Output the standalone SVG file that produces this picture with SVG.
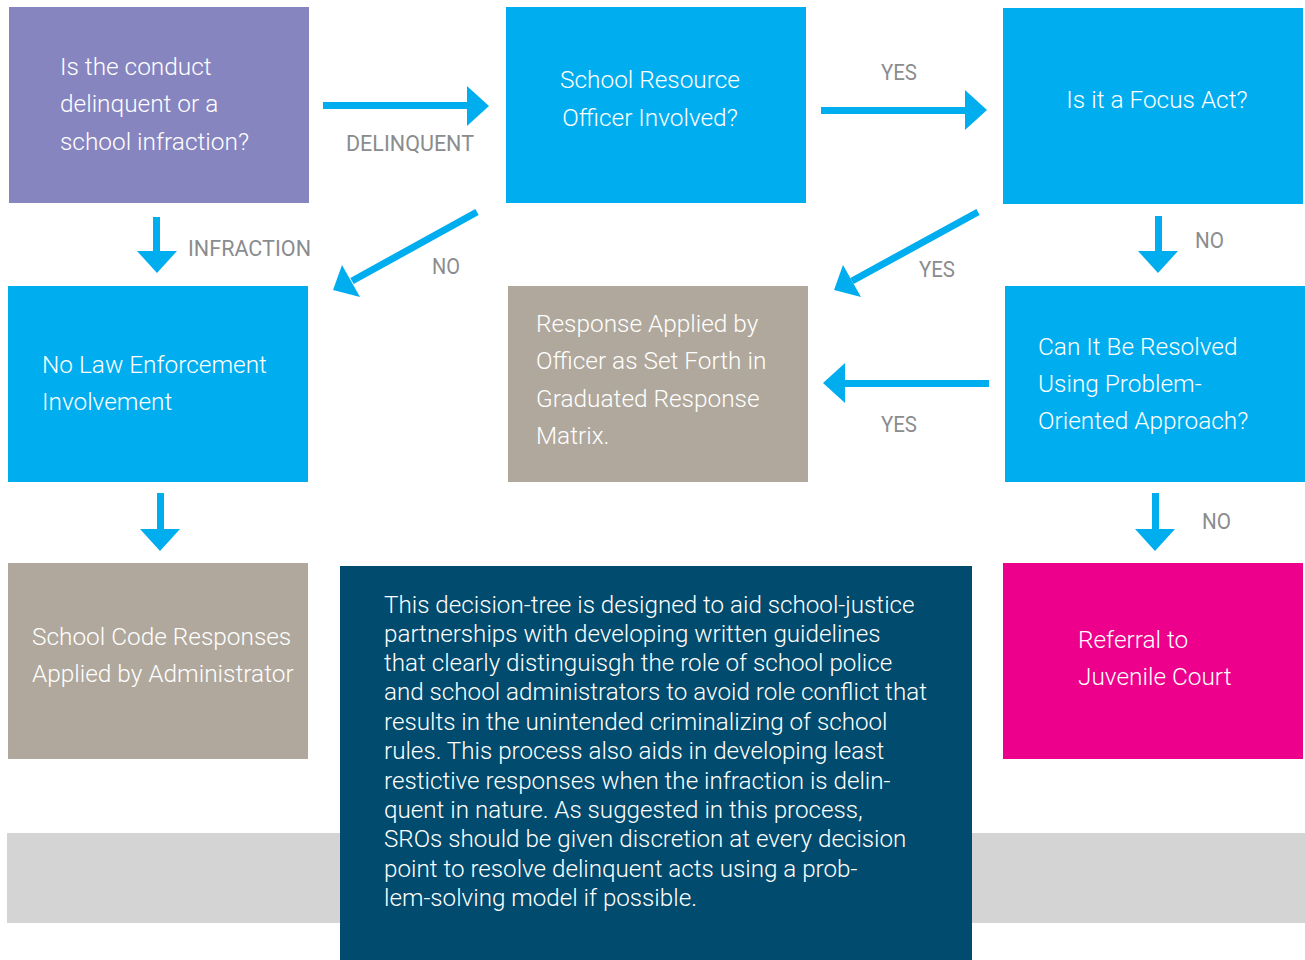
<svg xmlns="http://www.w3.org/2000/svg" width="1305" height="960" viewBox="0 0 1305 960">
<style>
.t{font-family:Roboto,"Liberation Sans",sans-serif;font-weight:300;font-size:24.4px;fill:#fff}
.n{font-family:Roboto,"Liberation Sans",sans-serif;font-weight:300;font-size:24.2px;fill:#fff}
.l{font-family:Roboto,"Liberation Sans",sans-serif;font-size:22px;fill:#8a8c8e}
.a{fill:#00aeef}
</style>
<rect width="1305" height="960" fill="#fff"/>
<rect x="7" y="833" width="1298" height="90" fill="#d4d4d4"/>
<g id="q1"><rect x="9" y="7" width="300" height="196" fill="#8785bf"/>
<text class="t" x="60" y="75">Is the conduct</text><text class="t" x="60" y="112">delinquent or a</text><text class="t" x="60" y="150">school infraction?</text></g>
<g id="sro"><rect x="506" y="7" width="300" height="196" fill="#00aeef"/>
<text class="t" x="650" y="88" text-anchor="middle">School Resource</text><text class="t" x="650" y="126" text-anchor="middle">Officer Involved?</text></g>
<g id="focus"><rect x="1003" y="8" width="300" height="196" fill="#00aeef"/>
<text class="t" x="1157" y="108" text-anchor="middle">Is it a Focus Act?</text></g>
<g id="nolaw"><rect x="8" y="286" width="300" height="196" fill="#00aeef"/>
<text class="t" x="42" y="373">No Law Enforcement</text><text class="t" x="42" y="410">Involvement</text></g>
<g id="response"><rect x="508" y="286" width="300" height="196" fill="#b0a89c"/>
<text class="t" x="536" y="332">Response Applied by</text><text class="t" x="536" y="369">Officer as Set Forth in</text><text class="t" x="536" y="407">Graduated Response</text><text class="t" x="536" y="444">Matrix.</text></g>
<g id="problem"><rect x="1005" y="286" width="300" height="196" fill="#00aeef"/>
<text class="t" x="1038" y="355">Can It Be Resolved</text><text class="t" x="1038" y="392">Using Problem-</text><text class="t" x="1038" y="429">Oriented Approach?</text></g>
<g id="schoolcode"><rect x="8" y="563" width="300" height="196" fill="#b0a89c"/>
<text class="t" x="32" y="645">School Code Responses</text><text class="t" x="32" y="682">Applied by Administrator</text></g>
<g id="referral"><rect x="1003" y="563" width="300" height="196" fill="#ec008c"/>
<text class="t" x="1078" y="648">Referral to</text><text class="t" x="1078" y="685">Juvenile Court</text></g>
<g id="note"><rect x="340" y="566" width="632" height="394" fill="#004b6e"/>
<text class="n" x="384" y="613">This decision-tree is designed to aid school-justice</text>
<text class="n" x="384" y="642">partnerships with developing written guidelines</text>
<text class="n" x="384" y="671">that clearly distinguisgh the role of school police</text>
<text class="n" x="384" y="700">and school administrators to avoid role conflict that</text>
<text class="n" x="384" y="730">results in the unintended criminalizing of school</text>
<text class="n" x="384" y="759">rules. This process also aids in developing least</text>
<text class="n" x="384" y="789">restictive responses when the infraction is delin-</text>
<text class="n" x="384" y="818">quent in nature. As suggested  in this process,</text>
<text class="n" x="384" y="847">SROs should be given discretion at every decision</text>
<text class="n" x="384" y="877">point to resolve delinquent acts using a prob-</text>
<text class="n" x="384" y="906">lem-solving model if possible.</text></g>
<g id="connectors">
<rect class="a" x="323" y="102" width="146" height="7"/><polygon class="a" points="467,86 489,106 467,126"/>
<rect class="a" x="821" y="107" width="146" height="7"/><polygon class="a" points="965,90 987,110 965,130"/>
<rect class="a" x="153" y="217" width="7" height="36"/><polygon class="a" points="137,251 177,251 157,273"/>
<rect class="a" x="1155" y="216" width="7" height="37"/><polygon class="a" points="1138,251 1178,251 1158,273"/>
<rect class="a" x="157" y="493" width="7" height="38"/><polygon class="a" points="140,529 180,529 160,551"/>
<rect class="a" x="1152" y="493" width="7" height="38"/><polygon class="a" points="1135,529 1175,529 1155,551"/>
<rect class="a" x="843" y="380" width="146" height="7"/><polygon class="a" points="845,363 823,383 845,403"/>
<line x1="477" y1="212" x2="352" y2="281" stroke="#00aeef" stroke-width="7"/><polygon class="a" points="342,265 333,290 360,297"/>
<line x1="978" y1="212" x2="852" y2="281" stroke="#00aeef" stroke-width="7"/><polygon class="a" points="843,265 834,290 861,297"/>
</g>
<g id="labels">
<text class="l" x="346" y="151" textLength="128" lengthAdjust="spacingAndGlyphs">DELINQUENT</text>
<text class="l" x="881" y="80" textLength="36" lengthAdjust="spacingAndGlyphs">YES</text>
<text class="l" x="188" y="256" textLength="123" lengthAdjust="spacingAndGlyphs">INFRACTION</text>
<text class="l" x="432" y="274" textLength="28" lengthAdjust="spacingAndGlyphs">NO</text>
<text class="l" x="919" y="277" textLength="36" lengthAdjust="spacingAndGlyphs">YES</text>
<text class="l" x="1195" y="248" textLength="29" lengthAdjust="spacingAndGlyphs">NO</text>
<text class="l" x="881" y="432" textLength="36" lengthAdjust="spacingAndGlyphs">YES</text>
<text class="l" x="1202" y="529" textLength="29" lengthAdjust="spacingAndGlyphs">NO</text>
</g>
</svg>
